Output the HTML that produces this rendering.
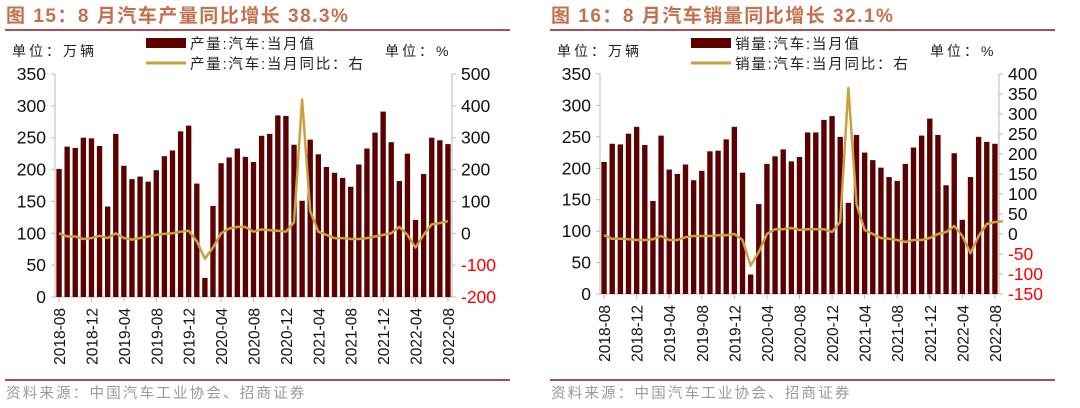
<!DOCTYPE html>
<html><head><meta charset="utf-8"><style>
body{margin:0;background:#fff;width:1080px;height:408px;overflow:hidden;font-family:"Liberation Sans","Noto Sans CJK SC",sans-serif}
svg{position:absolute;left:0;top:0}
</style></head><body>
<svg id="c" width="1080" height="408" xmlns="http://www.w3.org/2000/svg"></svg>
<script>
const months=[];for(let y=2018,m=8;months.length<49;){months.push(y+'-'+String(m).padStart(2,'0'));m++;if(m>12){m=1;y++;}}
const prodValues=[201,236,234,250,249,237,142,256,206,185,189,181,199,221,230,260,269,178,30,143,210,219,233,220,212,253,256,285,284,239,151,247,224,204,195,187,173,208,233,258,291,243,182,225,121,193,250,246,240];
const prodYoY=[0,-10,-10,-18,-15,-8,-15,0,-15,-20,-15,-10,-5,-2,0,5,8,-25,-80,-45,0,15,20,20,5,12,10,8,5,35,420,70,5,-5,-15,-15,-18,-18,-15,-10,-5,0,20,-5,-45,-5,28,32,38];
const salesValues=[210,239,238,255,266,237,148,252,198,191,206,181,196,227,228,246,266,193,31,143,207,219,230,211,218,257,257,277,283,250,145,253,225,213,201,186,180,207,233,252,279,253,173,224,118,186,250,242,239];
const salesYoY=[-3,-12,-12,-13,-15,-15,-13,-5,-15,-15,-8,-5,-5,-5,-3,-3,0,-15,-79,-45,0,12,12,15,10,12,12,12,5,30,365,75,10,0,-10,-12,-15,-20,-15,-15,-10,0,5,20,-5,-48,-5,25,30,32];
const leftTicks=[0,50,100,150,200,250,300,350];
const prodRightTicks=[-200,-100,0,100,200,300,400,500];
const salesRightTicks=[-150,-100,-50,0,50,100,150,200,250,300,350,400];
const svg=document.getElementById('c');const NS='http://www.w3.org/2000/svg';
function el(t,a,txt,p){const e=document.createElementNS(NS,t);for(const k in a)e.setAttribute(k,a[k]);if(txt!=null)e.textContent=txt;(p||svg).appendChild(e);return e;}
function chart(o){
 const g=el('g',{});
 
 
 const X0=o.x0,X1=o.x1,Y0=o.y0,Y1=o.y1;
 const n=o.bars.length,step=(X1-X0)/n;
 const xs=i=>X0+step*(i+0.5);
 const yl=v=>Y0-(v-0)/(350)*(Y0-Y1);
 const rmin=o.rt[0],rmax=o.rt[o.rt.length-1];
 const yr=v=>Y0-(v-rmin)/(rmax-rmin)*(Y0-Y1);
 let t=el('text',{x:o.ox+6,y:22,fill:'#c5704d','font-size':'19','font-weight':'bold','letter-spacing':'1.5'},o.title,g);
 
 el('line',{x1:o.ox+5,x2:o.ox+510,y1:30,y2:30,stroke:'#8b1a1a','stroke-width':1.5},null,g);
 t=el('text',{x:o.ox+12,y:56,fill:'#222','font-size':'14','letter-spacing':'3'},'单位：万辆',g);
 
 t=el('text',{x:o.ox+385,y:56,fill:'#222','font-size':'14','letter-spacing':'3'},'单位：%',g);
 
 const lg=el('g',{},null,g);
 
 el('rect',{x:o.ox+146,y:38,width:40,height:10,fill:'#5c0000'},null,lg);
 el('text',{x:o.ox+190,y:49,'font-size':'14.5',fill:'#222','letter-spacing':'1.8'},o.l1,lg);
 el('line',{x1:o.ox+146,x2:o.ox+186,y1:63,y2:63,stroke:'#c9a13e','stroke-width':3},null,lg);
 el('text',{x:o.ox+190,y:69,'font-size':'14.5',fill:'#222','letter-spacing':'1.8'},o.l2,lg);
 el('line',{x1:X0,x2:X0,y1:Y1,y2:Y0,stroke:'#bbb'},null,g);
 el('line',{x1:X1,x2:X1,y1:Y1,y2:Y0,stroke:'#bbb'},null,g);
 el('line',{x1:X0,x2:X1,y1:Y0,y2:Y0,stroke:'#bbb'},null,g);
 leftTicks.forEach(v=>{el('line',{x1:X0-4,x2:X0,y1:yl(v),y2:yl(v),stroke:'#bbb'},null,g);
  const tt=el('text',{x:X0-9,y:yl(v)+6,'text-anchor':'end','font-size':'17.5',fill:'#111'},v,g);
  });
 o.rt.forEach(v=>{el('line',{x1:X1,x2:X1+4,y1:yr(v),y2:yr(v),stroke:'#bbb'},null,g);
  const tt=el('text',{x:X1+9,y:yr(v)+6,'font-size':'17.5',fill:v<0?'#ff0000':'#111'},v,g);
  });
 o.bars.forEach((v,i)=>{const r=el('rect',{x:xs(i)-step*0.33,y:yl(v),width:step*0.66,height:Y0-yl(v),fill:'#5c0000'},null,g);
  });
 months.forEach((m,i)=>{if(i%4)return;const x=xs(i);
  el('line',{x1:x,x2:x,y1:Y0,y2:Y0+5,stroke:'#bbb'},null,g);
  const tt=el('text',{x:0,y:0,'font-size':'15.5',fill:'#111','text-anchor':'end',transform:`translate(${x+6},${Y0+11}) rotate(-90)`},m,g);
  });
 const p=el('polyline',{points:o.line.map((v,i)=>xs(i)+','+yr(v)).join(' '),fill:'none',stroke:'#c9a13e','stroke-width':2.5,'stroke-linejoin':'round'},null,g);
 
 el('line',{x1:o.ox+5,x2:o.ox+510,y1:380,y2:380,stroke:'#8b1a1a','stroke-width':1.5},null,g);
 t=el('text',{x:o.ox+6,y:398,fill:'#999','font-size':'14.5','letter-spacing':'2.2'},'资料来源：中国汽车工业协会、招商证券',g);
 
}
chart({id:'production',ox:0,x0:55,x1:452,y0:297,y1:74,bars:prodValues,line:prodYoY,rt:prodRightTicks,title:'图 15：8 月汽车产量同比增长 38.3%',l1:'产量:汽车:当月值',l2:'产量:汽车:当月同比：右'});
chart({id:'sales',ox:545,x0:600,x1:999,y0:294,y1:74,bars:salesValues,line:salesYoY,rt:salesRightTicks,title:'图 16：8 月汽车销量同比增长 32.1%',l1:'销量:汽车:当月值',l2:'销量:汽车:当月同比：右'});
</script>
</body></html>
